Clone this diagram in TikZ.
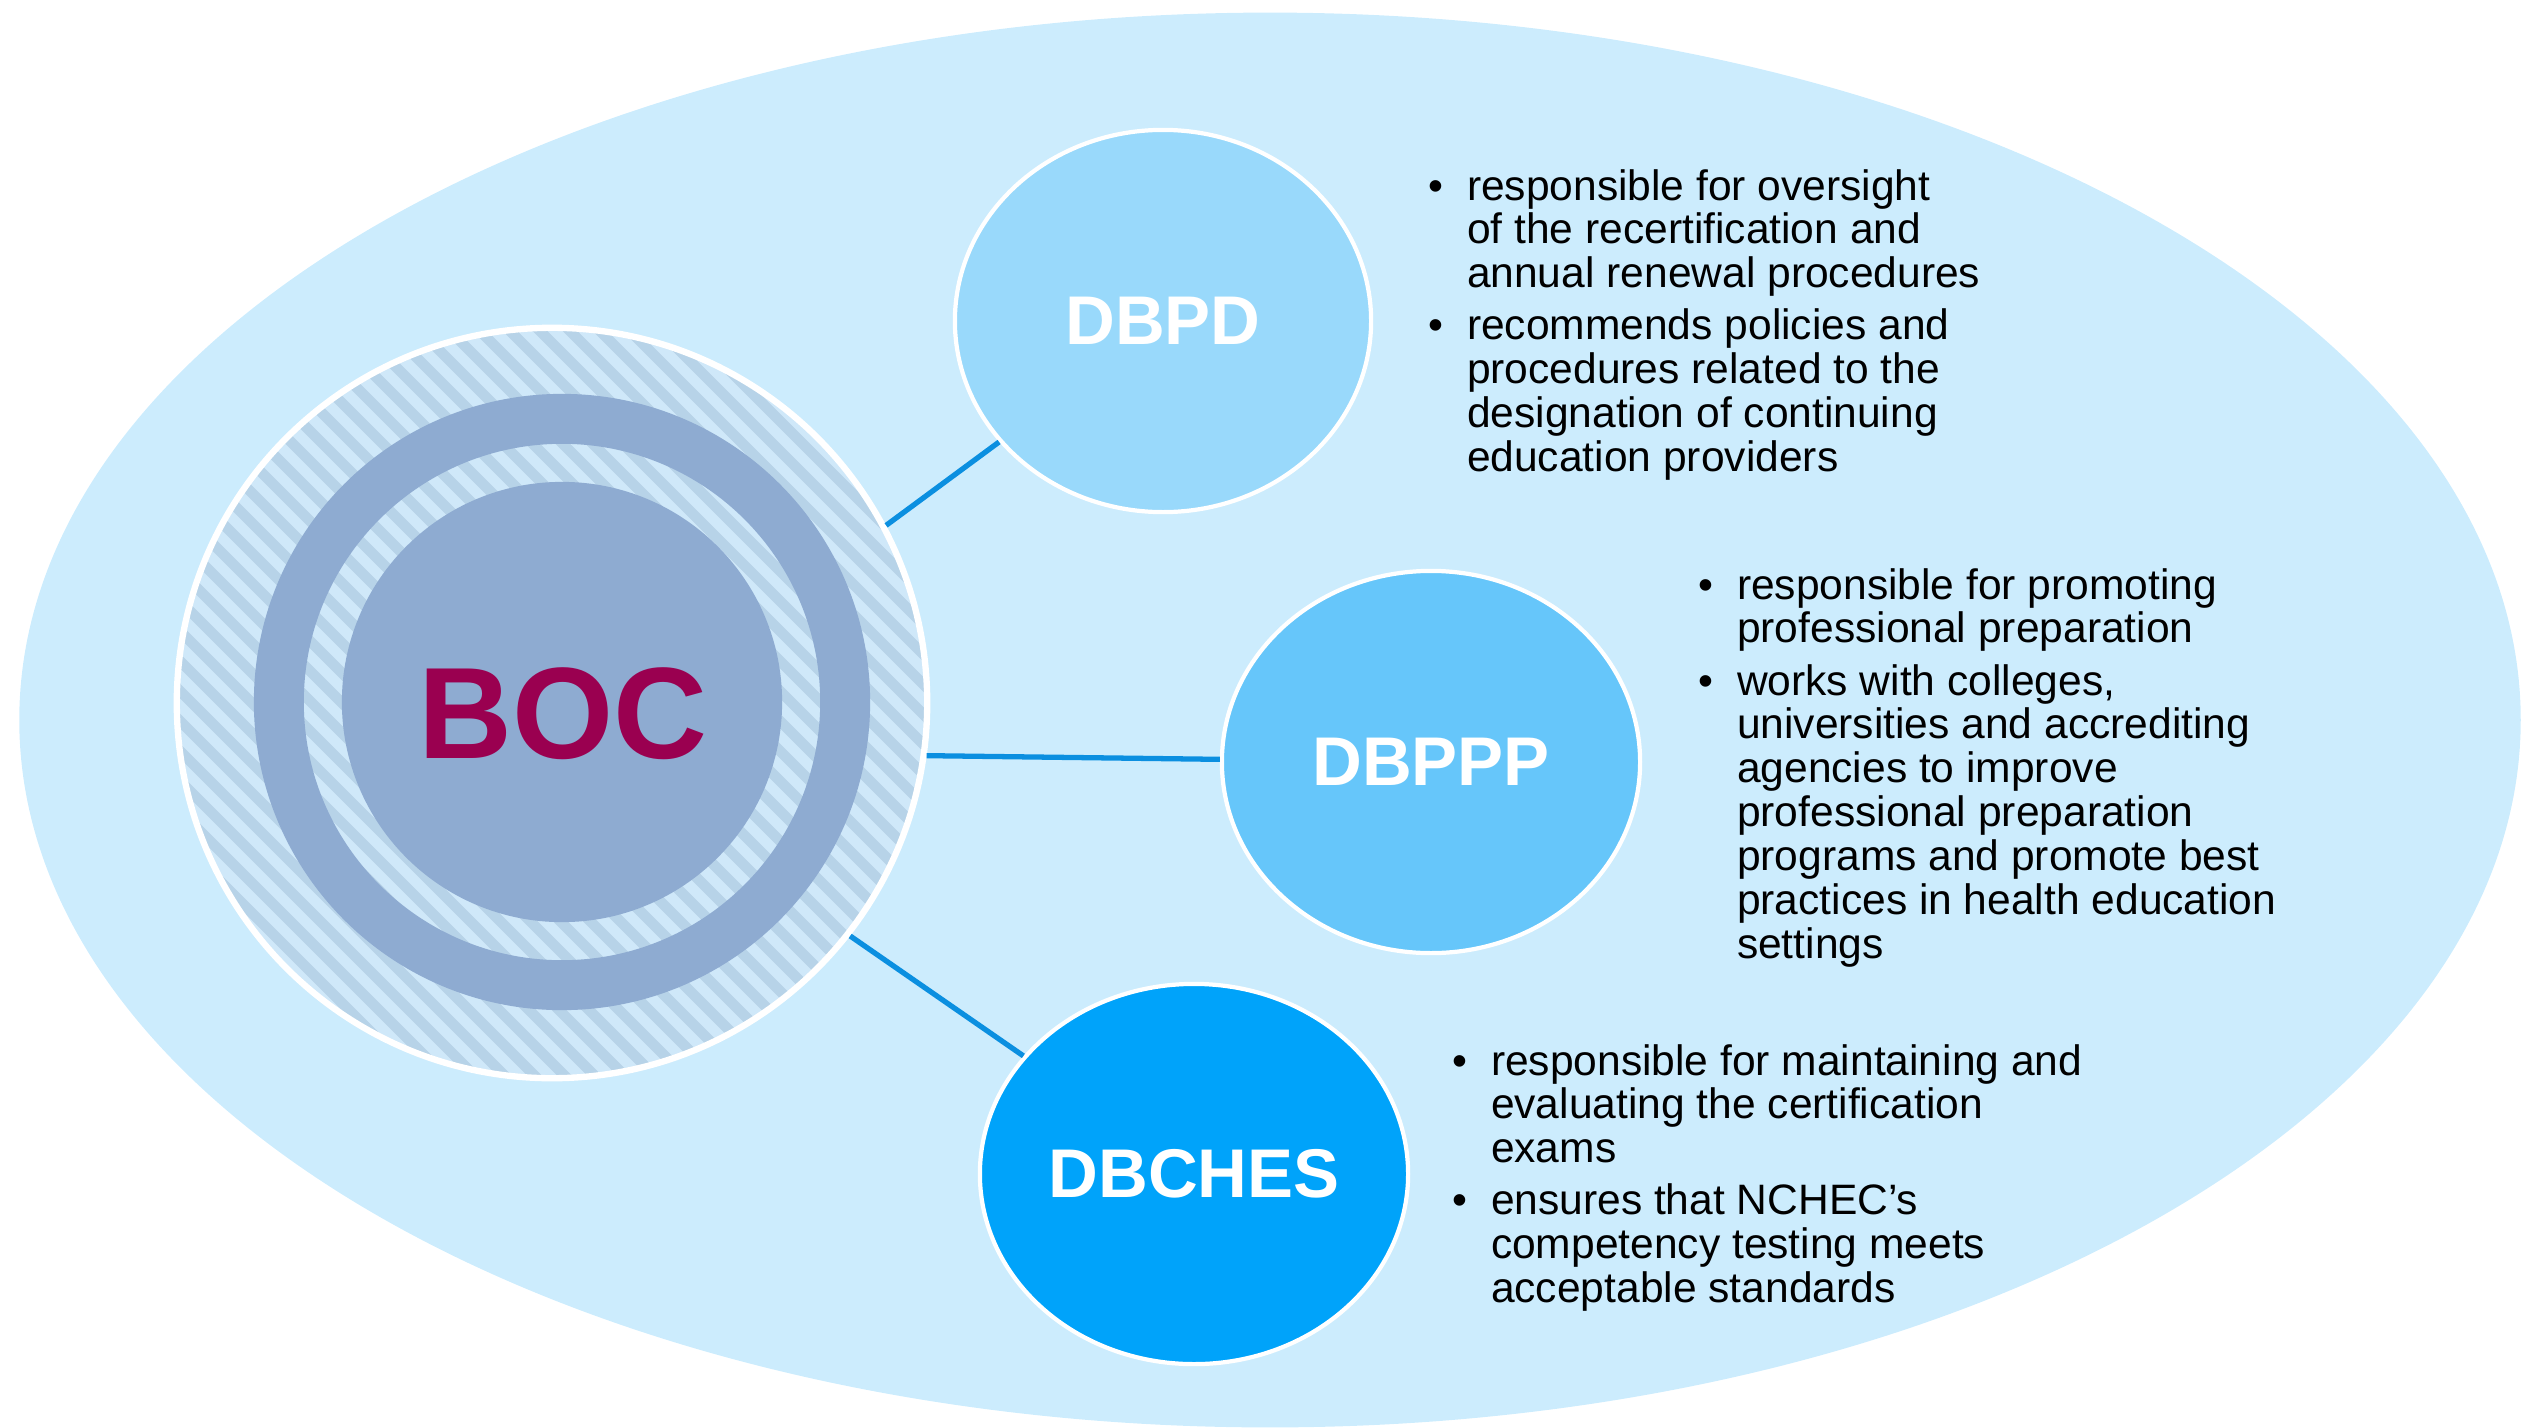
\documentclass[tikz,border=0pt]{standalone}
\usepackage{fontspec}
\setmainfont{Liberation Sans}
\usetikzlibrary{shapes.geometric}

\definecolor{bgblue}{HTML}{CCECFD}
\definecolor{stripelight}{HTML}{CFE8F9}
\definecolor{stripedark}{HTML}{B7D3E8}
\definecolor{bocblue}{HTML}{8EABD1}
\definecolor{bocred}{HTML}{9A0050}
\definecolor{dbpdblue}{HTML}{99D9FB}
\definecolor{dbpppblue}{HTML}{66C6FA}
\definecolor{dbchesblue}{HTML}{00A3FA}
\definecolor{linkblue}{HTML}{0B8FE0}

\begin{document}
\begin{tikzpicture}[x=0.01cm, y=-0.01cm]

\useasboundingbox (0, 0) rectangle (2533, 1427) ;

% background

\tikzstyle{back shape} = [ellipse, fill=bgblue, inner sep=0pt, minimum width=25cm, minimum height=14.14cm]

\node [back shape] (back) at (1270, 720) {} ;

% BOC

\def\stripestep{30}
\pgfmathsetmacro\nextstripe{-810 + \stripestep}

\tikzstyle{boc stripe} = [line width=3pt, color=stripedark]
\tikzstyle{boc disk} = [circle, fill=bocblue, inner sep=0pt]

\node [circle, fill=stripelight, draw=white, line width=1.8pt, minimum size=7.5cm, inner sep=0pt,
	path picture={
		\foreach \xstripe in {-810, \nextstripe, ..., 810}
			\draw [boc stripe] ([shift={(\xstripe - 400, -400)}] path picture bounding box.center) -- ++(800, 800) ;
	}] (boc) at (552, 703) {} ;

\node [circle, draw=bocblue, line width=14.2pt, minimum size=5.66cm, inner sep=0pt] (bocring) at (562, 702) {} ;
\node [boc disk, minimum size=4.4cm] (bocdisk) at (562, 702) {} ;

\node [text=bocred, font=\bfseries\fontsize{37}{40}\selectfont, inner sep=0pt] (boclabel) at (563, 714) {BOC} ;

% sub boards

\tikzstyle{sub board} = [ellipse, draw=white, line width=1.2pt, inner sep=0pt, text=white,
	font=\bfseries\fontsize{19.6}{22}\selectfont]

\node [sub board, fill=dbpdblue, minimum width=4.16cm, minimum height=3.82cm] (dbpd) at (1163, 321) {DBPD} ;
\node [sub board, fill=dbpppblue, minimum width=4.18cm, minimum height=3.82cm] (dbppp) at (1431, 762) {DBPPP} ;
\node [sub board, fill=dbchesblue, minimum width=4.28cm, minimum height=3.8cm] (dbches) at (1194, 1174) {DBCHES} ;

% links

\tikzstyle{link line} = [line width=1.5pt, color=linkblue]

\draw [link line] (boc.28) -- (dbpd) ;
\draw [link line] (boc.-8) -- (dbppp) ;
\draw [link line] (boc.-38) -- (dbches) ;

% duties

\tikzstyle{duty text} = [anchor=base west, inner sep=0pt, font=\fontsize{12.1}{12.45}\selectfont]

\node [duty text] (dbpdduty) at (1428, 200) {\begin{tabular}[t]{@{}l@{\hspace{.55em}}l@{}}
	\textbullet & responsible for oversight \\
	& of the recertification and \\
	& annual renewal procedures \\[2.3pt]
	\textbullet & recommends policies and \\
	& procedures related to the \\
	& designation of continuing \\
	& education providers
\end{tabular}} ;

\node [duty text] (dbpppduty) at (1698, 599) {\begin{tabular}[t]{@{}l@{\hspace{.55em}}l@{}}
	\textbullet & responsible for promoting \\
	& professional preparation \\[2.3pt]
	\textbullet & works with colleges, \\
	& universities and accrediting \\
	& agencies to improve \\
	& professional preparation \\
	& programs and promote best \\
	& practices in health education \\
	& settings
\end{tabular}} ;

\node [duty text] (dbchesduty) at (1452, 1075) {\begin{tabular}[t]{@{}l@{\hspace{.55em}}l@{}}
	\textbullet & responsible for maintaining and \\
	& evaluating the certification \\
	& exams \\[2.3pt]
	\textbullet & ensures that NCHEC’s \\
	& competency testing meets \\
	& acceptable standards
\end{tabular}} ;

\end{tikzpicture}
\end{document}
